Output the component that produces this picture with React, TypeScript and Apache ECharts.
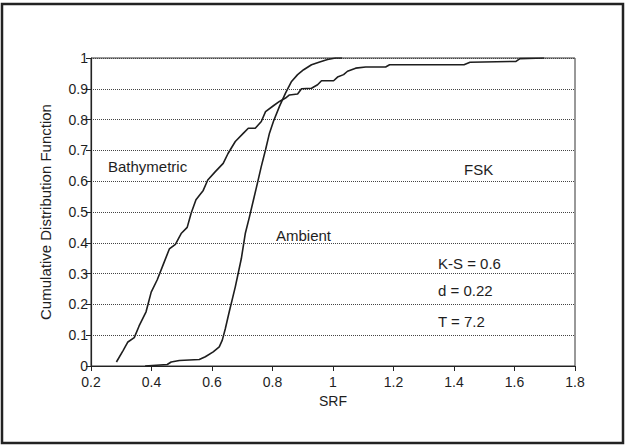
import React, { useEffect, useRef } from "react";
import * as echarts from "echarts";

const bathyX = [0.284, 0.306, 0.322, 0.343, 0.359, 0.382, 0.399, 0.419, 0.439, 0.459, 0.479, 0.498, 0.518, 0.531, 0.547, 0.571, 0.586, 0.611, 0.637, 0.653, 0.677, 0.704, 0.72, 0.743, 0.763, 0.777, 0.803, 0.823, 0.843, 0.856, 0.883, 0.896, 0.929, 0.949, 0.962, 1.002, 1.015, 1.035, 1.048, 1.075, 1.108, 1.174, 1.187, 1.433, 1.453, 1.605, 1.618, 1.698];
const bathyY = [0.013, 0.05, 0.078, 0.092, 0.13, 0.176, 0.24, 0.28, 0.33, 0.38, 0.395, 0.43, 0.45, 0.496, 0.54, 0.57, 0.604, 0.631, 0.658, 0.69, 0.729, 0.756, 0.772, 0.772, 0.794, 0.826, 0.845, 0.859, 0.87, 0.88, 0.883, 0.9, 0.902, 0.913, 0.926, 0.926, 0.938, 0.946, 0.957, 0.967, 0.971, 0.971, 0.978, 0.978, 0.986, 0.989, 0.998, 1.0];

const ambX = [0.379, 0.452, 0.465, 0.492, 0.558, 0.578, 0.604, 0.624, 0.634, 0.644, 0.657, 0.677, 0.697, 0.71, 0.724, 0.737, 0.75, 0.763, 0.777, 0.79, 0.803, 0.823, 0.843, 0.863, 0.883, 0.903, 0.929, 0.956, 0.982, 1.008, 1.03];
const ambY = [0.0, 0.005, 0.013, 0.018, 0.021, 0.03, 0.046, 0.062, 0.084, 0.121, 0.176, 0.257, 0.349, 0.43, 0.485, 0.539, 0.593, 0.648, 0.702, 0.756, 0.794, 0.843, 0.886, 0.924, 0.946, 0.962, 0.978, 0.987, 0.995, 1.0, 1.0];

const annotations = [
  { text: "Bathymetric", x: 108, y: 166 },
  { text: "FSK", x: 464, y: 169 },
  { text: "Ambient", x: 276, y: 235 },
  { text: "K-S = 0.6", x: 438, y: 263 },
  { text: "d = 0.22", x: 438, y: 290 },
  { text: "T = 7.2", x: 438, y: 321 },
];

const FONT = '"Liberation Sans", Arial, sans-serif';
const INK = "#1e1e1e";

export default function App() {
  const ref = useRef<HTMLDivElement>(null);
  useEffect(() => {
    if (!ref.current) return;
    const chart = echarts.init(ref.current, undefined, { renderer: "svg" });
    const zip = (xs: number[], ys: number[]) => xs.map((x, i) => [x, ys[i]]);
    chart.setOption({
      animation: false,
      backgroundColor: "#ffffff",
      textStyle: { fontFamily: FONT, color: INK },
      grid: {
        left: 91,
        right: 52,
        top: 58,
        bottom: 81,
        show: true,
        borderColor: "#333",
        borderWidth: 1,
        backgroundColor: "transparent",
      },
      xAxis: {
        type: "value",
        min: 0.2,
        max: 1.8,
        interval: 0.2,
        name: "SRF",
        nameLocation: "middle",
        nameGap: 26,
        nameTextStyle: { fontSize: 14, color: INK, fontFamily: FONT },
        axisLine: { lineStyle: { color: "#222", width: 1.2 } },
        axisTick: { show: true, length: 5, lineStyle: { color: "#222" } },
        axisLabel: {
          fontSize: 14,
          lineHeight: 14,
          color: INK,
          margin: 9,
          fontFamily: FONT,
          formatter: (v: number) => String(Math.round(v * 10) / 10),
        },
        splitLine: { show: false },
      },
      yAxis: {
        type: "value",
        min: 0,
        max: 1,
        interval: 0.1,
        name: "Cumulative Distribution Function",
        nameLocation: "middle",
        nameGap: 38,
        nameTextStyle: { fontSize: 15, color: INK, fontFamily: FONT },
        axisLine: { lineStyle: { color: "#222", width: 1.2 } },
        axisTick: { show: true, length: 5, lineStyle: { color: "#222" } },
        axisLabel: {
          fontSize: 14,
          lineHeight: 14,
          color: INK,
          margin: 3,
          fontFamily: FONT,
          formatter: (v: number) => String(Math.round(v * 10) / 10),
        },
        splitLine: {
          show: true,
          lineStyle: { type: "dotted", color: "#444", width: 1 },
        },
      },
      series: [
        {
          name: "Bathymetric",
          type: "line",
          data: zip(bathyX, bathyY),
          showSymbol: false,
          lineStyle: { color: INK, width: 1.6 },
        },
        {
          name: "Ambient",
          type: "line",
          data: zip(ambX, ambY),
          showSymbol: false,
          lineStyle: { color: INK, width: 1.6 },
        },
      ],
      graphic: [
        {
          type: "rect",
          shape: { x: 2, y: 4, width: 621, height: 439 },
          style: { fill: "none", stroke: "#222", lineWidth: 2.5 },
          silent: true,
        },
        ...annotations.map((a) => ({
          type: "text",
          x: a.x,
          y: a.y,
          style: {
            text: a.text,
            font: `15px ${FONT}`,
            fill: INK,
            align: "left",
            verticalAlign: "middle",
          },
          silent: true,
        })),
      ],
    });
    return () => chart.dispose();
  }, []);
  return (
    <div
      ref={ref}
      style={{ position: "fixed", left: 0, top: 0, width: 627, height: 447 }}
    />
  );
}
